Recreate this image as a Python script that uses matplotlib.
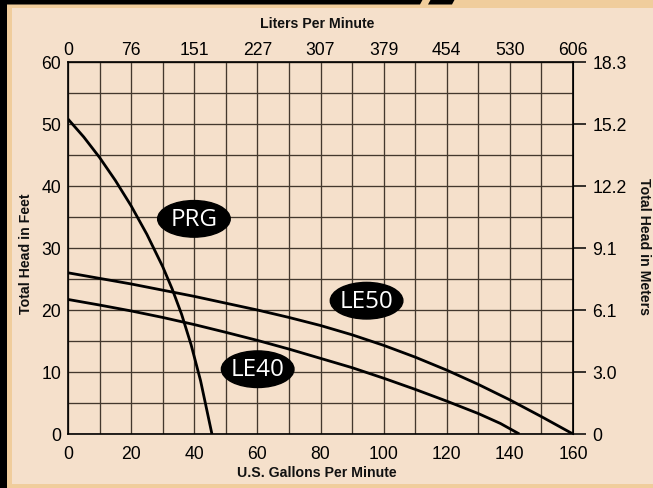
import matplotlib.pyplot as plt
from matplotlib.patches import Ellipse, Polygon, Rectangle

# pump curves (U.S. gpm vs total head in feet)
gpm_prg = [0, 5, 10, 15, 20, 25, 30, 33, 36, 39, 42, 45.6]
head_prg = [50.8, 47.9, 44.6, 40.9, 36.8, 32.2, 27.0, 23.4, 19.3, 14.4, 8.6, 0]

gpm_le50 = [0, 10, 20, 30, 40, 50, 60, 70, 80, 90, 100, 110, 120, 130, 140, 150, 160]
head_le50 = [26.0, 25.1, 24.2, 23.2, 22.2, 21.1, 20.0, 18.8, 17.5, 16.0, 14.3,
             12.4, 10.3, 8.0, 5.5, 2.8, 0]

gpm_le40 = [0, 10, 20, 30, 40, 50, 60, 70, 80, 90, 100, 110, 120, 130, 137, 143]
head_le40 = [21.7, 20.8, 19.85, 18.8, 17.65, 16.4, 15.1, 13.7, 12.2, 10.7, 9.0,
             7.2, 5.3, 3.3, 1.7, 0]

gpm_ticks = [0, 20, 40, 60, 80, 100, 120, 140, 160]
lpm_labels = ["0", "76", "151", "227", "307", "379", "454", "530", "606"]
feet_ticks = [0, 10, 20, 30, 40, 50, 60]
meter_labels = ["0", "3.0", "6.1", "9.1", "12.2", "15.2", "18.3"]

BEIGE = "#f5e0cb"
ORANGE = "#f0cd9c"
W, H = 653, 489

plt.rcParams["font.family"] = ["Liberation Sans", "DejaVu Sans"]


def box(x0, y0, x1, y1):
    # pixel box (from top-left) -> figure fraction rect
    return [x0 / W, 1 - y1 / H, (x1 - x0) / W, (y1 - y0) / H]


def pt(x, y):
    return (x / W, 1 - y / H)


fig = plt.figure(figsize=(W / 100, H / 100), dpi=100, facecolor=BEIGE)

# frame decoration round the panel
for x0, y0, x1, y1, c in [(7, 0, W, 9, ORANGE), (7, 0, 12, H, ORANGE),
                          (7, 485, W, H, ORANGE), (0, 0, 7, H, "black")]:
    r = box(x0, y0, x1, y1)
    fig.add_artist(Rectangle((r[0], r[1]), r[2], r[3], transform=fig.transFigure,
                             color=c, lw=0, zorder=0))
fig.add_artist(Polygon([pt(0, 0), pt(423, 0), pt(420, 5.5), pt(0, 5.5)],
                       transform=fig.transFigure, color="black", lw=0))
fig.add_artist(Polygon([pt(431, 0), pt(455, 0), pt(452, 5.5), pt(428, 5.5)],
                       transform=fig.transFigure, color="black", lw=0))

ax = fig.add_axes(box(68, 63, 573, 435))
ax.set_facecolor(BEIGE)
ax.set_xlim(0, 160)
ax.set_ylim(0, 60)

ax.set_xticks(gpm_ticks)
ax.set_yticks(feet_ticks)
ax.set_xticks(range(0, 161, 10), minor=True)
ax.set_yticks(range(0, 61, 5), minor=True)
ax.grid(which="both", color="#43382e", lw=0.95)
ax.tick_params(which="both", length=0, labelsize=12.7, colors="black")
ax.tick_params(axis="x", pad=8)
ax.tick_params(axis="y", pad=5)
for s in ax.spines.values():
    s.set_color("black")
    s.set_linewidth(1.2)

top = ax.secondary_xaxis("top")
top.set_xticks(gpm_ticks, labels=lpm_labels)
top.tick_params(length=0, labelsize=12.7, pad=3)

right = ax.secondary_yaxis("right")
right.set_yticks(feet_ticks, labels=meter_labels)
right.tick_params(length=9, width=1.1, labelsize=12.7, pad=5, direction="out")

for g, h in [(gpm_prg, head_prg), (gpm_le50, head_le50), (gpm_le40, head_le40)]:
    ax.plot(g, h, color="black", lw=2.0, solid_capstyle="butt",
            solid_joinstyle="round", zorder=3)

# black oval tags on the curves
tags = {"PRG": (39.9, 34.7), "LE50": (94.6, 21.5), "LE40": (60.1, 10.45)}
for name, (x, y) in tags.items():
    ax.add_patch(Ellipse((x, y), 23, 5.9, color="black", zorder=4))
    ax.text(x, y, name, ha="center", va="center", color="white", fontsize=17.5,
            family=["Open Sans", "DejaVu Sans"], zorder=5)

lab = dict(fontsize=10.2, fontweight="bold", color="#111111")
fig.text(*pt(317, 27.7), "Liters Per Minute", ha="center", va="baseline", **lab)
fig.text(*pt(317, 476.7), "U.S. Gallons Per Minute", ha="center", va="baseline", **lab)
fig.text(*pt(26.5, 253.5), "Total Head in Feet", ha="center", va="center",
         rotation=90, **lab)
fig.text(*pt(644, 247), "Total Head in Meters", ha="center", va="center",
         rotation=270, **lab)

fig.savefig("out.png", dpi=100, facecolor=BEIGE)
